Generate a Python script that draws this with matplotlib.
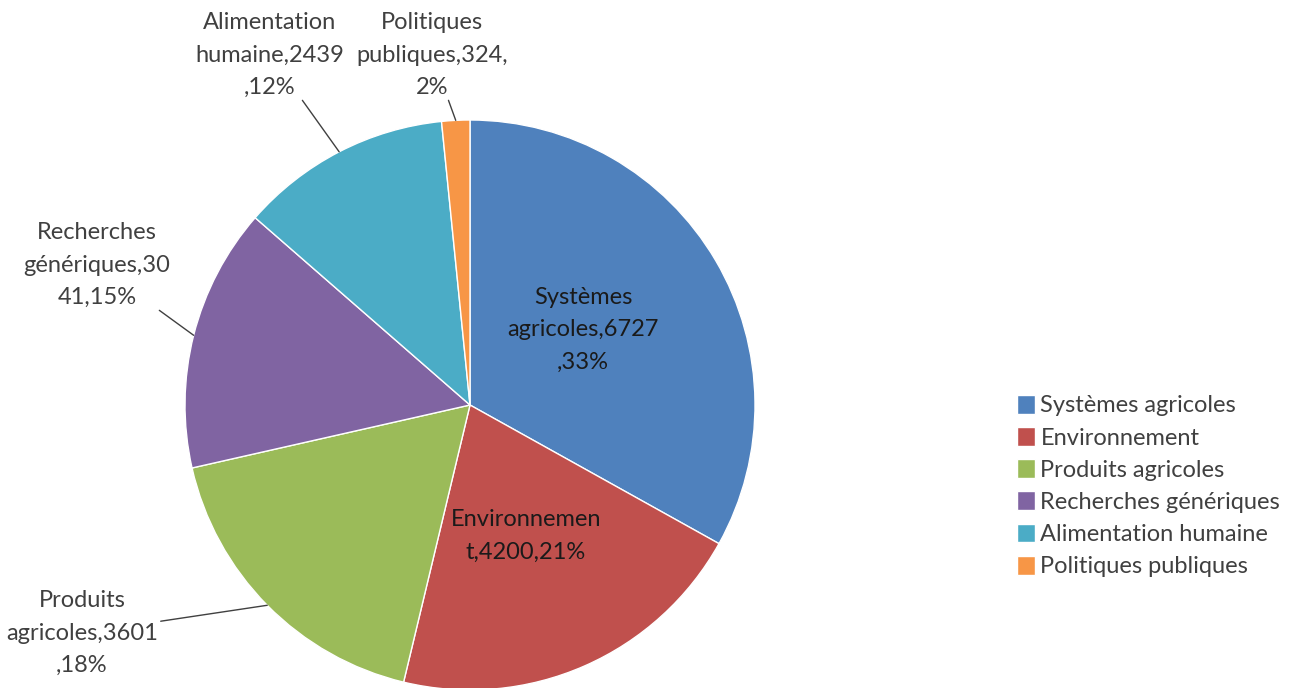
import matplotlib.pyplot as plt
import numpy as np

categories = ["Systèmes agricoles", "Environnement", "Produits agricoles",
              "Recherches génériques", "Alimentation humaine", "Politiques publiques"]
values = [6727, 4200, 3601, 3041, 2439, 324]
slice_texts = [
    "Systèmes\nagricoles,6727\n,33%",
    "Environnemen\nt,4200,21%",
    "Produits\nagricoles,3601\n,18%",
    "Recherches\ngénériques,30\n41,15%",
    "Alimentation\nhumaine,2439\n,12%",
    "Politiques\npubliques,324,\n2%",
]
colors = ["#4F81BD", "#C0504D", "#9BBB59", "#8064A2", "#4BACC6", "#F79646"]

plt.rcParams['font.family'] = ['Lato', 'DejaVu Sans']

W, H = 1296, 688
fig = plt.figure(figsize=(W / 100, H / 100), dpi=100)
cx, cy, r = 470, 405, 285
ax = fig.add_axes([(cx - r) / W, (H - cy - r) / H, 2 * r / W, 2 * r / H])

wedges, _ = ax.pie(values, colors=colors, startangle=90, counterclock=False,
                   radius=1, wedgeprops=dict(edgecolor='white', linewidth=1))
ax.set_xlim(-1, 1)
ax.set_ylim(-1, 1)
ax.set_aspect('equal')
ax.axis('off')


def px(x, y):
    return ((x - cx) / r, (cy - y) / r)


# label centre positions in pixels
label_pos = [(583, 330), (526, 536), (82, 633), (97, 265), (270, 55), (432, 55)]
inside = [True, True, False, False, False, False]
txt_color = "#404040"
fs = 17

for i, w in enumerate(wedges):
    tx, ty = px(*label_pos[i])
    if inside[i]:
        ax.text(tx, ty, slice_texts[i], ha='center', va='center', fontsize=fs,
                color='#1a1a1a', linespacing=1.65)
    else:
        mid = np.deg2rad((w.theta1 + w.theta2) / 2)
        ax.annotate(slice_texts[i], xy=(np.cos(mid), np.sin(mid)), xytext=(tx, ty),
                    ha='center', va='center', fontsize=fs, color=txt_color,
                    linespacing=1.65, annotation_clip=False,
                    arrowprops=dict(arrowstyle='-', color='#404040', lw=1,
                                    shrinkA=0, shrinkB=0))

fig.legend(wedges, categories, loc='upper left',
           bbox_to_anchor=(1005 / W, (H - 383) / H), frameon=False,
           fontsize=fs, handlelength=0.75, handleheight=0.85, handletextpad=0.25,
           labelspacing=0.45, borderpad=0, labelcolor=txt_color)

fig.savefig("out.png", dpi=100)
